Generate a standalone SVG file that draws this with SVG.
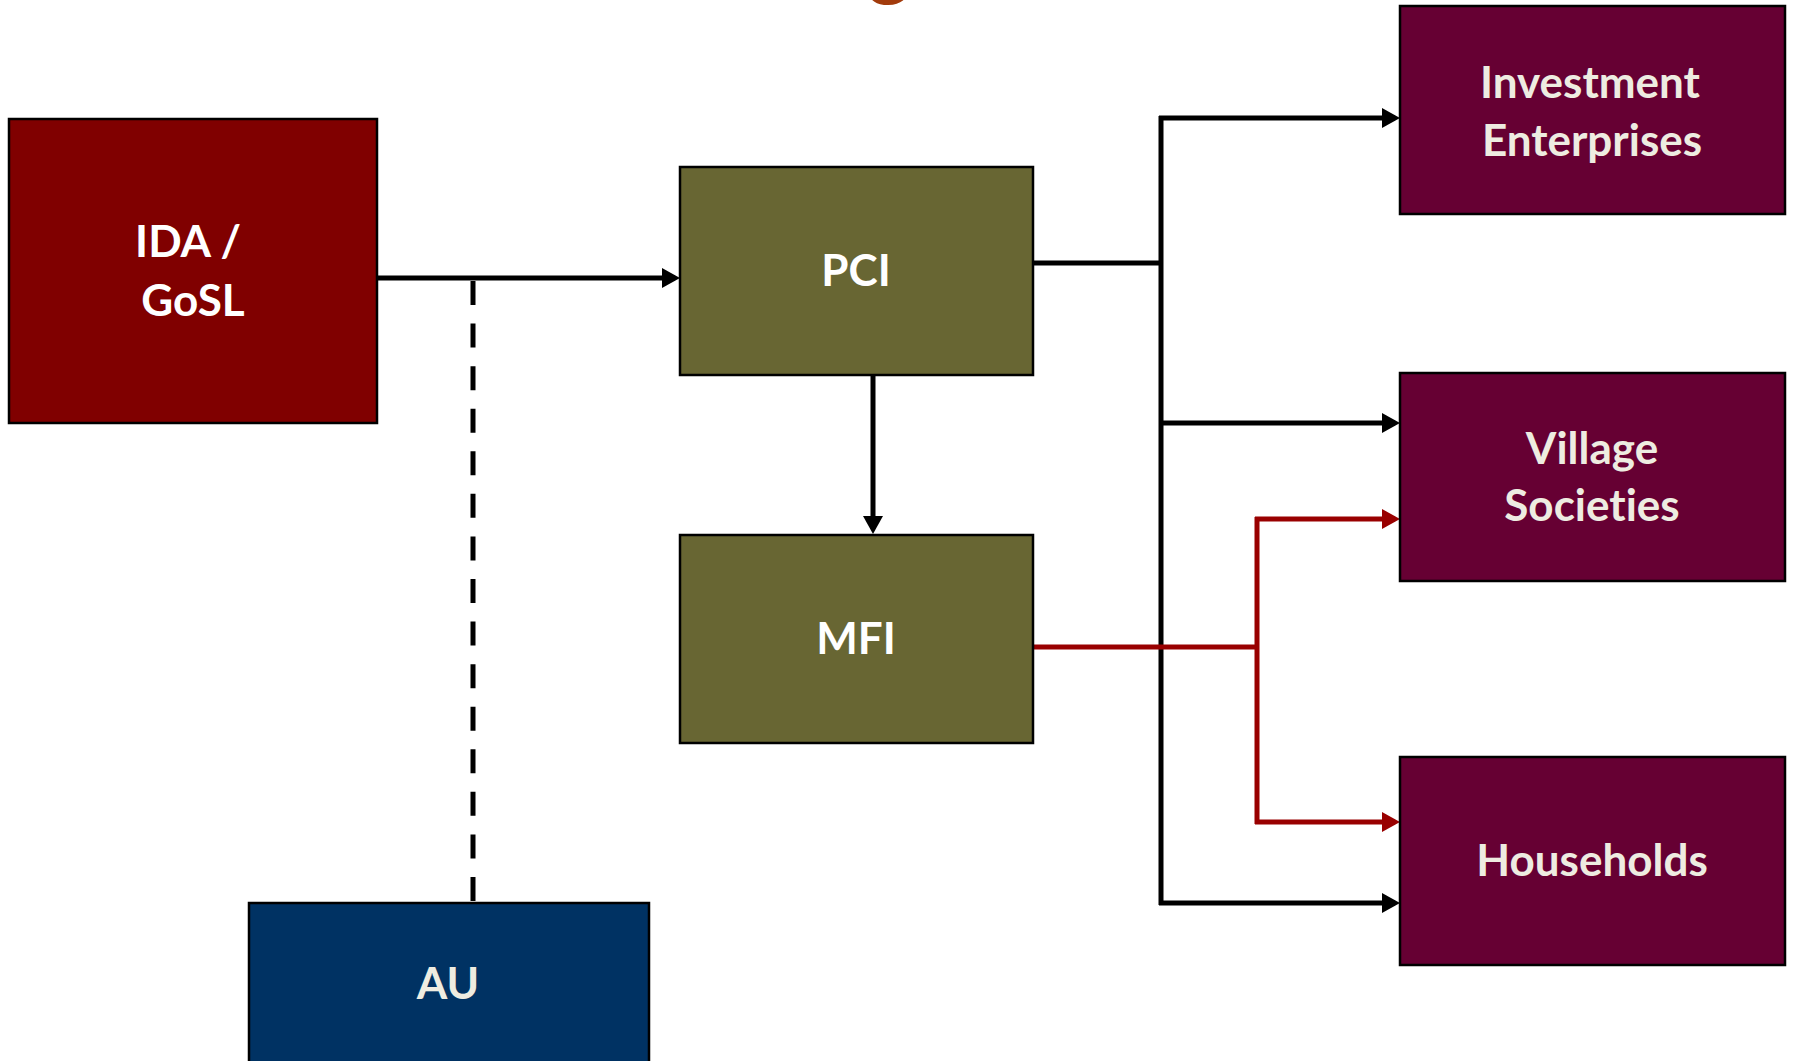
<svg xmlns="http://www.w3.org/2000/svg" width="1796" height="1061" viewBox="0 0 1796 1061">
<style>
.box{stroke:#000;stroke-width:2.5}
.lbl{font-family:Lato,"Open Sans","Liberation Sans",sans-serif;font-weight:700;font-size:44px;text-anchor:middle;font-variant-ligatures:none}
.w{fill:#FFFFFF}
.c{fill:#EEECE1}
.k{fill:none;stroke:#000;stroke-width:5}
.r{fill:none;stroke:#990000;stroke-width:5}
</style>
<defs>
<marker id="ak" markerUnits="userSpaceOnUse" markerWidth="18" markerHeight="20" refX="13" refY="10" orient="auto">
<path d="M0,0 L18,10 L0,20 z" fill="#000"/>
</marker>
<marker id="ar" markerUnits="userSpaceOnUse" markerWidth="18" markerHeight="20" refX="13" refY="10" orient="auto">
<path d="M0,0 L18,10 L0,20 z" fill="#990000"/>
</marker>
</defs>
<rect width="1796" height="1061" fill="#FFFFFF"/>
<text x="889" y="-10" style="font-family:Lato,'Open Sans',sans-serif;font-weight:700;font-size:80px;text-anchor:middle;fill:#A23B0C">g</text>
<g id="connectors">
<path class="k" d="M377,278 H675" marker-end="url(#ak)"/>
<path class="k" d="M473,281 V903" stroke-dasharray="24 18.57"/>
<path class="k" d="M873,375 V529" marker-end="url(#ak)"/>
<path class="k" d="M1033,263 H1161"/>
<path class="k" d="M1161,116 V905"/>
<path class="k" d="M1159,118 H1395" marker-end="url(#ak)"/>
<path class="k" d="M1159,423 H1395" marker-end="url(#ak)"/>
<path class="k" d="M1159,903 H1395" marker-end="url(#ak)"/>
<path class="r" d="M1033,647 H1257"/>
<path class="r" d="M1257,517 V824"/>
<path class="r" d="M1255,519 H1395" marker-end="url(#ar)"/>
<path class="r" d="M1255,822 H1395" marker-end="url(#ar)"/>
</g>
<g id="ida">
<rect class="box" x="9" y="119" width="368" height="304" fill="#800000"/>
<text class="lbl w" x="188" y="257">IDA /</text>
<text class="lbl w" x="193" y="316">GoSL</text>
</g>
<g id="pci">
<rect class="box" x="680" y="167" width="353" height="208" fill="#686633"/>
<text class="lbl w" x="856" y="286">PCI</text>
</g>
<g id="mfi">
<rect class="box" x="680" y="535" width="353" height="208" fill="#686633"/>
<text class="lbl w" x="856" y="654">MFI</text>
</g>
<g id="au">
<rect class="box" x="249" y="903" width="400" height="180" fill="#003263"/>
<text class="lbl c" x="448" y="999">AU</text>
</g>
<g id="investment">
<rect class="box" x="1400" y="6" width="385" height="208" fill="#660033"/>
<text class="lbl c" x="1590" y="98">Investment</text>
<text class="lbl c" x="1592" y="156">Enterprises</text>
</g>
<g id="village">
<rect class="box" x="1400" y="373" width="385" height="208" fill="#660033"/>
<text class="lbl c" x="1592" y="464">Village</text>
<text class="lbl c" x="1592" y="521">Societies</text>
</g>
<g id="households">
<rect class="box" x="1400" y="757" width="385" height="208" fill="#660033"/>
<text class="lbl c" x="1592" y="876">Households</text>
</g>
</svg>
